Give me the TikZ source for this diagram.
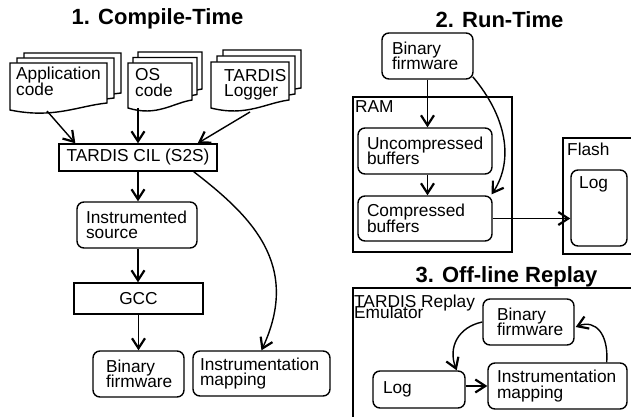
\documentclass[tikz,border=0pt]{standalone}
\usepackage{fontspec}
\setmainfont{Liberation Sans}
\usetikzlibrary{arrows.meta,calc}
\newcommand\bodyfont{\fontsize{17.3}{15.5}\selectfont\lineskiplimit=-30pt\relax}
\tikzset{
  lw/.style={line width=1.4pt},
  rbox/.style={draw, lw, rounded corners=7pt, align=left, inner ysep=0pt, font=\bodyfont},
  sbox/.style={draw, lw, align=center, inner sep=0pt, font=\bodyfont},
  cont/.style={draw, lw},
  page/.style={draw, lw, fill=white},
  txt/.style={inner sep=0pt, align=left, font=\bodyfont},
  ttl/.style={inner sep=0pt, font=\bfseries\fontsize{22}{24}\selectfont},
  arr/.style={lw, -{Straight Barb[length=10pt,width=13pt,line width=2.2pt]}},
}
\newcommand\docstack[7]{% x y w hl hr dx dy
  \foreach \k in {2,1,0}{%
    \draw[page] ({#1+\k*#6},{#2-\k*#7}) -- ++(#3,0) -- ++(0,#5)
      .. controls +({-0.3*#3},3) and +({0.45*#3},9) .. ({#1+\k*#6},{#2-\k*#7+#4}) -- cycle;
  }%
}
\begin{document}
\begin{tikzpicture}[x=1pt,y=-1pt]
\useasboundingbox (0,0) rectangle (631,417);
\clip (0,0) rectangle (631,417);

% titles
\node[ttl, anchor=base] (t1) at (157.5,25) {1. Compile-Time};
\node[ttl, anchor=base] (t2) at (499.5,28) {2. Run-Time};
\node[ttl, anchor=base] (t3) at (506.5,282) {3. Off-line Replay};

% ---------- compile time ----------
\docstack{10}{63}{97}{47}{40}{7}{5}
\docstack{128}{63}{64}{45}{37}{5}{5.5}
\docstack{211}{62}{78}{46}{38}{6}{6}
\node[txt, anchor=base west] (app) at (16,95.5) {Application\\code};
\node[txt, anchor=base west] (os) at (135,96) {OS\\code};
\node[txt, anchor=base west] (logger) at (224,97) {TARDIS\\Logger};
\coordinate (appout) at (47,111);
\coordinate (osout) at (138,108);
\coordinate (logout) at (250,112);

\node[sbox, minimum width=158pt, minimum height=27pt] (cil) at (138,157.5) {TARDIS CIL (S2S)};
\node[rbox, inner xsep=9pt, text width=102pt, minimum height=46pt] (instr) at (137,225) {Instrumented\\source};
\node[sbox, minimum width=129pt, minimum height=31pt] (gcc) at (138.5,298.5) {GCC};
\node[rbox, inner xsep=13pt, text width=65pt, minimum height=46pt] (bin1) at (138.5,374) {Binary\\firmware};
\node[rbox, inner xsep=7pt, text width=123pt, minimum height=45pt] (map1) at (261.5,373.5) {Instrumentation\\mapping};

\draw[arr] (appout) -- ($(cil.north west)+(17,0)$);
\draw[arr] (osout) -- (osout |- cil.north);
\draw[arr] (logout) -- ($(cil.north east)+(-20,0)$);
\draw[arr] (cil.south) -- (cil.south |- instr.north);
\draw[arr] (instr.south -| cil.south) -- (cil.south |- gcc.north);
\draw[arr] (gcc.south) -- (bin1.north);
\draw[arr] ($(cil.south east)+(-24,0)$) .. controls +(57,44) and +(40,-86) .. (map1.north);

% ---------- run time ----------
\node[cont, minimum width=159pt, minimum height=155pt, inner sep=0pt] (ram) at (432.5,174.5) {};
\node[txt, anchor=base west] (ramlbl) at (355,113) {RAM};
\node[cont, minimum width=90pt, minimum height=116pt, inner sep=0pt] (flash) at (608,196) {};
\node[txt, anchor=base west] (flashlbl) at (567,155) {Flash};

\node[rbox, inner xsep=10pt, text width=71pt, minimum height=46pt] (bin2) at (427.5,56) {Binary\\firmware};
\node[rbox, inner xsep=9pt, text width=116pt, minimum height=46pt] (unc) at (425,151) {Uncompressed\\buffers};
\node[rbox, inner xsep=9pt, text width=116pt, minimum height=45pt] (comp) at (425,218.5) {Compressed\\buffers};
\node[rbox, inner sep=0pt, minimum width=56pt, minimum height=76pt] (flog) at (599,208) {};
\node[txt, anchor=base west] (floglbl) at (579,188) {Log};

\draw[arr] (bin2.south) -- (bin2.south |- unc.north);
\draw[arr] (unc.south -| bin2.south) -- (bin2.south |- comp.north);
\draw[arr] ($(bin2.south east)+(-1,-3)$) .. controls +(33,39) and +(23,-35) .. ($(comp.north east)+(-1,-1)$);
\draw[arr] (comp.east) -- (comp.east -| flog.west);

% ---------- replay ----------
\node[cont, minimum width=290pt, minimum height=150pt, inner sep=0pt] (emu) at (498,363) {};
\node[inner sep=0pt, align=left, anchor=base west, font={\fontsize{17.3}{11}\selectfont\lineskiplimit=-30pt\relax}] (emulbl) at (354,318) {TARDIS Replay\\Emulator};
\node[rbox, inner xsep=14pt, text width=63pt, minimum height=46pt] (bin3) at (528.5,322) {Binary\\firmware};
\node[rbox, inner xsep=10pt, text width=72pt, minimum height=37pt] (log3) at (419,389.5) {Log};
\node[rbox, inner xsep=9pt, text width=121pt, minimum height=46pt] (map3) at (557.5,386) {Instrumentation\\mapping};

\draw[arr] (log3.east |- map3.west) -- (map3.west);
\draw[arr] (bin3.west) .. controls +(-24,5) and +(-9,-23) .. ($(log3.north east)+(-9,0)$);
\draw[arr] ($(map3.north east)+(-21,0)$) .. controls +(2,-28) and +(20,-8) .. ($(bin3.east)+(1,5)$);
\end{tikzpicture}
\end{document}
